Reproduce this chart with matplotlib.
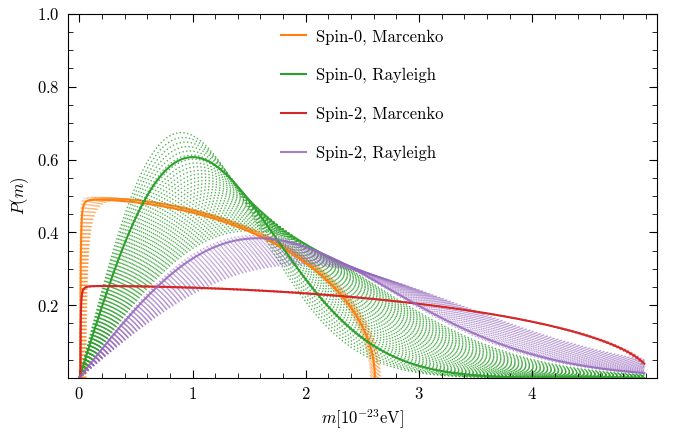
import numpy as np
import matplotlib.pyplot as plt
from matplotlib.ticker import MultipleLocator

plt.rcParams['font.family'] = 'serif'
plt.rcParams['font.serif'] = ['cmr10']
plt.rcParams['mathtext.fontset'] = 'cm'
plt.rcParams['axes.formatter.use_mathtext'] = True
plt.rcParams['font.size'] = 12

# masses in units of 1e-23 eV
m_end = 4.99

# Marcenko-Pastur support [m_min, m_max] and Rayleigh widths
mp_spin0 = (0.01, 2.61)
mp_spin2 = (0.01, 5.05)
sigma_spin0 = 1.0
sigma_spin2 = 1.58

# parameter ranges swept by the dotted curves
mp_spin0_max_range = (2.57, 2.66)
mp_spin0_min_range = (0.005, 0.06)
mp_spin2_max_range = (5.02, 5.08)
sigma_spin0_range = (0.90, 1.50)
sigma_spin2_range = (1.55, 1.95)
n_curves = {'mp0': 20, 'ray0': 34, 'mp2': 8, 'ray2': 26}

colors = {'mp0': 'tab:orange', 'ray0': 'tab:green',
          'mp2': 'tab:red', 'ray2': 'tab:purple'}


def marcenko(m_min, m_max, n=6000):
    m = np.linspace(m_min, m_max, n)
    p = np.sqrt(np.clip((m_max**2 - m**2) * (m**2 - m_min**2), 0, None)) / m
    p /= np.trapezoid(p, m)
    keep = m <= m_end
    return m[keep], p[keep]


def rayleigh(sigma, n=1500):
    m = np.linspace(0, m_end, n)
    return m, m / sigma**2 * np.exp(-m**2 / (2 * sigma**2))


fig = plt.figure(figsize=(6.73, 4.33), dpi=100)
ax = fig.add_axes([0.101, 0.127, 0.875, 0.841])

dot = dict(ls=':', lw=1.0, zorder=1)

# dotted families
for a, b in zip(np.linspace(*mp_spin0_max_range, n_curves['mp0']),
                np.linspace(*mp_spin0_min_range, n_curves['mp0'])):
    ax.plot(*marcenko(b, a), color=colors['mp0'], alpha=0.4, **dot)
for s in np.linspace(*sigma_spin0_range, n_curves['ray0']):
    ax.plot(*rayleigh(s), color=colors['ray0'], alpha=0.8, **dot)
for a in np.linspace(*mp_spin2_max_range, n_curves['mp2']):
    ax.plot(*marcenko(mp_spin2[0], a), color=colors['mp2'], alpha=0.35, **dot)
for s in np.linspace(*sigma_spin2_range, n_curves['ray2']):
    ax.plot(*rayleigh(s), color=colors['ray2'], alpha=0.6, **dot)

# central curves
ax.plot(*marcenko(*mp_spin0), color=colors['mp0'], lw=1.5, zorder=3,
        label='Spin-0, Marcenko')
ax.plot(*rayleigh(sigma_spin0), color=colors['ray0'], lw=1.5, zorder=3,
        label='Spin-0, Rayleigh')
ax.plot(*marcenko(*mp_spin2), color=colors['mp2'], lw=1.5, zorder=3,
        label='Spin-2, Marcenko')
ax.plot(*rayleigh(sigma_spin2), color=colors['ray2'], lw=1.5, zorder=3,
        alpha=0.85, label='Spin-2, Rayleigh')

ax.set_xlim(-0.1, 5.1)
ax.set_ylim(0, 1)
ax.set_xticks([0, 1, 2, 3, 4])
ax.set_yticks([0.2, 0.4, 0.6, 0.8, 1.0])
ax.xaxis.set_minor_locator(MultipleLocator(0.2))
ax.yaxis.set_minor_locator(MultipleLocator(0.05))
ax.tick_params(which='both', direction='in', top=True, right=True, pad=6)
ax.tick_params(which='major', length=6)
ax.tick_params(which='minor', length=3.5)

ax.set_xlabel(r'$m[10^{-23}\mathrm{eV}]$')
ax.set_ylabel(r'$P(m)$')
ax.legend(loc='upper center', frameon=False, labelspacing=1.38,
          handlelength=1.5, handletextpad=0.6)

fig.savefig('out.png', dpi=100)
